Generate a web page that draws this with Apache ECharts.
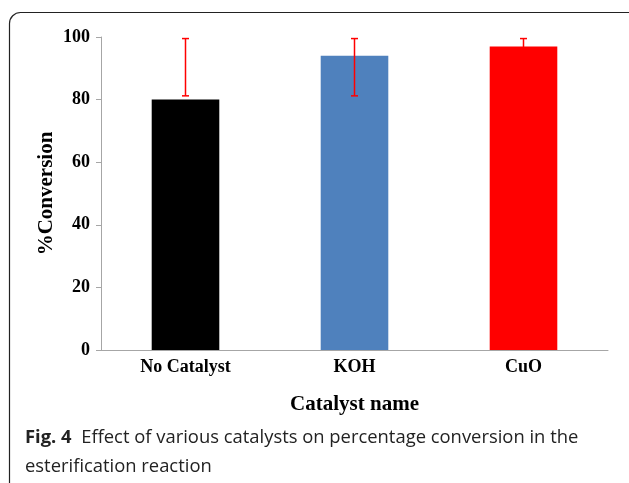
<!DOCTYPE html>
<html><head><meta charset="utf-8">
<script src="https://cdn.jsdelivr.net/npm/echarts@6/dist/echarts.min.js"></script>
<style>html,body{margin:0;padding:0;background:#fff}#c{width:629px;height:483px}</style>
</head><body><div id="c"></div>
<script>
var categories = ['No Catalyst', 'KOH', 'CuO'];
var conversion = [80, 94, 97];
var errLow = [81.2, 81.2, 94.6];
var errHigh = [99.5, 99.5, 99.5];
var barColors = ['#000000', '#4f81bd', '#ff0000'];
var yTicks = [0, 20, 40, 60, 80, 100];

var chart = echarts.init(document.getElementById('c'));
var serif = '"Liberation Serif", "Times New Roman", serif';
chart.setOption({
  animation: false,
  grid: {left: 101, right: 21, top: 37, bottom: 133, containLabel: false},
  xAxis: {
    type: 'category', data: categories,
    axisLine: {lineStyle: {color: '#a6a6a6', width: 1}},
    axisTick: {show: false},
    axisLabel: {color: '#000', fontFamily: serif, fontWeight: 'bold', fontSize: 18, margin: 8},
    name: 'Catalyst name', nameLocation: 'middle', nameGap: 44, nameMoveOverlap: false,
    nameTextStyle: {color: '#000', fontFamily: serif, fontWeight: 'bold', fontSize: 21}
  },
  yAxis: {
    type: 'value', min: yTicks[0], max: yTicks[yTicks.length - 1], interval: 20,
    axisLine: {show: true, lineStyle: {color: '#a6a6a6', width: 1}},
    axisTick: {show: true, length: 5, lineStyle: {color: '#a6a6a6'}},
    splitLine: {show: false},
    axisLabel: {color: '#000', fontFamily: serif, fontWeight: 'bold', fontSize: 18, margin: 11},
    name: '%Conversion', nameLocation: 'middle', nameGap: 44, nameRotate: 90, nameMoveOverlap: false,
    nameTextStyle: {color: '#000', fontFamily: serif, fontWeight: 'bold', fontSize: 21}
  },
  series: [{
    type: 'bar', barWidth: '40%',
    data: conversion.map(function (v, i) { return {value: v, itemStyle: {color: barColors[i]}}; })
  }, {
    type: 'custom', z: 5,
    data: categories.map(function (c, i) { return [i, errLow[i], errHigh[i]]; }),
    renderItem: function (params, api) {
      var lo = api.coord([api.value(0), api.value(1)]);
      var hi = api.coord([api.value(0), api.value(2)]);
      var hw = 3.5;
      var st = {stroke: '#ff0000', lineWidth: 1.5};
      return {type: 'group', children: [
        {type: 'line', shape: {x1: lo[0], y1: lo[1], x2: hi[0], y2: hi[1]}, style: st},
        {type: 'line', shape: {x1: lo[0] - hw, y1: lo[1], x2: lo[0] + hw, y2: lo[1]}, style: st},
        {type: 'line', shape: {x1: hi[0] - hw, y1: hi[1], x2: hi[0] + hw, y2: hi[1]}, style: st}
      ]};
    }
  }],
  graphic: [
    {type: 'rect', shape: {x: 9.5, y: 12.5, width: 640, height: 520, r: 11},
     style: {fill: null, stroke: '#222', lineWidth: 1.2}, z: 0},
    {type: 'text', x: 25, y: 438, style: {
      text: '{b|Fig. 4}  Effect of various catalysts on percentage conversion in the',
      font: '18.4px "Open Sans"', fill: '#222', verticalAlign: 'middle',
      rich: {b: {font: 'bold 18.4px "Open Sans"', fill: '#222'}}
    }},
    {type: 'text', x: 25, y: 467, style: {
      text: 'esterification reaction', font: '18.4px "Open Sans"', fill: '#222', verticalAlign: 'middle'
    }}
  ]
});
</script></body></html>
